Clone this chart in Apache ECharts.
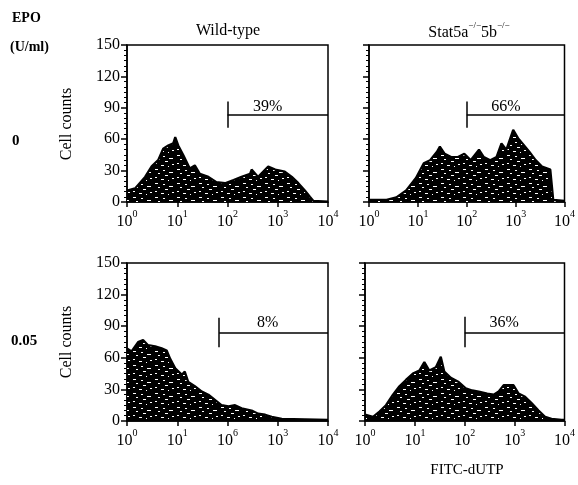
<!DOCTYPE html>
<html>
<head>
<meta charset="utf-8">
<script src="https://cdn.jsdelivr.net/npm/echarts@6/dist/echarts.min.js"></script>
<style>
  html, body { margin: 0; padding: 0; background: #fff; }
  #chart { width: 578px; height: 485px; }
</style>
</head>
<body>
<div id="chart"></div>
<script>
// Histogram data: x as log10(FITC-dUTP), y as cell counts
const wtEpo0Log = [0, 0.16, 0.36, 0.49, 0.62, 0.72, 0.82, 0.92, 0.96, 1.02, 1.12, 1.25, 1.35, 1.45, 1.62, 1.78, 1.95, 2.12, 2.28, 2.45, 2.48, 2.61, 2.81, 2.95, 3.14, 3.28, 3.41, 3.54, 3.64, 3.71, 4];
const wtEpo0Count = [11, 13, 24, 34, 40, 51, 54, 56, 62, 54, 45, 32, 35, 27, 24, 19, 18, 21, 24, 27, 31, 24, 34, 31, 29, 24, 18, 11, 5, 1, 0.5];

const koEpo0Log = [0, 0.36, 0.56, 0.76, 0.96, 1.12, 1.25, 1.39, 1.45, 1.55, 1.68, 1.82, 1.95, 2.08, 2.25, 2.35, 2.48, 2.61, 2.71, 2.81, 2.95, 3.05, 3.14, 3.28, 3.41, 3.54, 3.71, 3.77, 4];
const koEpo0Count = [2, 2, 4.5, 11, 23, 37, 40, 48, 53, 46, 43, 43, 46, 40, 50, 43, 40, 43, 56, 50, 69, 61, 56, 48, 40, 34, 31, 2, 1];

const wtEpo005Log = [0, 0.09, 0.22, 0.32, 0.42, 0.56, 0.69, 0.79, 0.86, 0.96, 1.09, 1.15, 1.22, 1.35, 1.49, 1.62, 1.75, 1.88, 2.02, 2.15, 2.28, 2.48, 2.61, 2.75, 2.88, 2.98, 3.08, 4];
const wtEpo005Count = [69, 66, 75, 77, 72, 71, 69, 67, 59, 50, 44, 47, 37, 33, 28, 25, 20, 15, 14, 15, 12, 10, 7, 6, 4, 3, 2, 1];

const koEpo005Log = [0, 0.16, 0.29, 0.42, 0.56, 0.69, 0.82, 0.96, 1.09, 1.19, 1.29, 1.42, 1.52, 1.59, 1.72, 1.88, 2.02, 2.15, 2.28, 2.45, 2.58, 2.68, 2.78, 2.88, 2.98, 3.08, 3.21, 3.34, 3.48, 3.61, 3.74, 3.94, 4];
const koEpo005Count = [6, 4, 9, 15, 25, 33, 39, 45, 48, 56, 48, 51, 61, 47, 41, 37, 31, 29, 28, 26, 25, 28, 34, 34, 34, 26, 23, 17, 10, 4, 2, 1, 1];

// Gates (marker bars) per panel
const gateStart = [100, 100, 68, 100];
const gateLevel = [83, 83, 84, 84];
const gateLow = [71, 71, 70, 70];
const gateHigh = [96, 96, 98, 99];
const gatePct = ['39%', '66%', '8%', '36%'];
const gateLabelX = [630, 630, 630, 620];
const gateLabelY = [91, 91, 93, 93];

// Tick labels (exponents); the lower-left panel carries the printed "10^6"
const xTickExp = ['0', '1', '2', '3', '4'];
const xTickExpMisprint = ['0', '1', '6', '3', '4'];
const yTicks = [0, 30, 60, 90, 120, 150];

const serif = "'Liberation Serif', 'Times New Roman', serif";

// black fill with white speckles, like the scanned histogram fill
const speckle = () => {
  const c = document.createElement('canvas');
  c.width = 22; c.height = 14;
  const g = c.getContext('2d');
  g.fillStyle = '#000'; g.fillRect(0, 0, 22, 14);
  g.fillStyle = '#fff';
  g.fillRect(1, 1, 3, 1);
  g.fillRect(9, 2, 2, 1);
  g.fillRect(15, 4, 4, 1);
  g.fillRect(4, 5, 2, 1);
  g.fillRect(11, 7, 3, 1);
  g.fillRect(1, 9, 2, 1);
  g.fillRect(18, 10, 2, 1);
  g.fillRect(7, 11, 3, 1);
  g.fillRect(14, 12, 1, 1);
  return c;
};
const fillPattern = { image: speckle(), repeat: 'repeat' };

const panels = [
  { log: wtEpo0Log, count: wtEpo0Count, ticks: xTickExp, yLabels: true },
  { log: koEpo0Log, count: koEpo0Count, ticks: xTickExp, yLabels: false },
  { log: wtEpo005Log, count: wtEpo005Count, ticks: xTickExpMisprint, yLabels: true },
  { log: koEpo005Log, count: koEpo005Count, ticks: xTickExp, yLabels: false }
];

const grids = [
  { left: 127, top: 45, width: 201, height: 157 },
  { left: 369, top: 45, width: 201, height: 157 },
  { left: 127, top: 263, width: 201, height: 158 },
  { left: 365, top: 263, width: 202, height: 158 }
].map(g => Object.assign(g, { show: true, borderColor: '#000', borderWidth: 1.5, backgroundColor: 'transparent' }));

const blackLine = { color: '#000', width: 1.5 };

const xAxes = panels.map((p, i) => ({
  type: 'log',
  logBase: 10,
  gridIndex: i,
  min: 1,
  max: 10000,
  axisLine: { lineStyle: blackLine },
  axisTick: { length: 5, lineStyle: blackLine },
  splitLine: { show: false },
  axisLabel: {
    margin: 7,
    formatter: v => {
      const e = Math.round(Math.log10(v));
      return '{b|10}{s|' + p.ticks[e] + '}';
    },
    rich: {
      b: { fontSize: 16, fontFamily: serif, color: '#000', verticalAlign: 'bottom', padding: [5, 0, 0, 0] },
      s: { fontSize: 10, fontFamily: serif, color: '#000', verticalAlign: 'top' }
    }
  }
}));

const yAxes = panels.map((p, i) => ({
  type: 'value',
  gridIndex: i,
  min: yTicks[0],
  max: yTicks[yTicks.length - 1],
  interval: 30,
  axisLine: { show: true, lineStyle: blackLine },
  axisTick: { show: true, length: 6, lineStyle: blackLine },
  minorTick: { show: true, splitNumber: 6, length: 3, lineStyle: { color: '#000', width: 1 } },
  splitLine: { show: false },
  axisLabel: { show: p.yLabels, margin: 7, fontSize: 16, fontFamily: serif, color: '#000' }
}));

const series = [];
panels.forEach((p, i) => {
  series.push({
    type: 'line',
    xAxisIndex: i,
    yAxisIndex: i,
    data: p.log.map((e, k) => [Math.pow(10, e), p.count[k]]),
    symbol: 'none',
    lineStyle: { color: '#000', width: 2.2 },
    areaStyle: { color: fillPattern, opacity: 1 },
    animation: false
  });
  series.push({
    type: 'scatter',
    xAxisIndex: i,
    yAxisIndex: i,
    data: [[gateLabelX[i], gateLabelY[i]]],
    symbolSize: 0,
    itemStyle: { color: '#000', opacity: 1 },
    label: {
      show: true, position: 'inside', formatter: gatePct[i], opacity: 1,
      fontSize: 16, fontFamily: serif, color: '#000', textBorderWidth: 0
    },
    markLine: {
      silent: true,
      symbol: ['none', 'none'],
      label: { show: false },
      lineStyle: { color: '#000', width: 1.5, type: 'solid' },
      data: [
        [{ coord: [gateStart[i], gateLow[i]] }, { coord: [gateStart[i], gateHigh[i]] }],
        [{ coord: [gateStart[i], gateLevel[i]] }, { coord: [10000, gateLevel[i]] }]
      ]
    },
    animation: false
  });
});

const txt = (text, x, y, opts) => ({
  type: 'text', x, y, silent: true,
  rotation: opts && opts.rotation || 0,
  style: Object.assign({ text, fill: '#000', fontFamily: serif, fontSize: 15, align: 'left', verticalAlign: 'middle' }, opts && opts.style)
});

const option = {
  backgroundColor: '#fff',
  animation: false,
  grid: grids,
  xAxis: xAxes,
  yAxis: yAxes,
  series,
  graphic: [
    txt('EPO', 12, 18, { style: { fontWeight: 'bold', fontSize: 14 } }),
    txt('(U/ml)', 10, 47, { style: { fontWeight: 'bold', fontSize: 14 } }),
    txt('0', 12, 141, { style: { fontWeight: 'bold', fontSize: 15 } }),
    txt('0.05', 11, 341, { style: { fontWeight: 'bold', fontSize: 15 } }),
    txt('Wild-type', 228, 31, { style: { align: 'center', fontSize: 16 } }),
    txt('{t|Stat5a}{s|\u2212/\u2212}{t|5b}{s|\u2212/\u2212}', 469, 31, {
      style: {
        align: 'center',
        rich: {
          t: { fontSize: 16, fontFamily: serif, fill: '#000', verticalAlign: 'bottom', padding: [4, 0, 0, 0] },
          s: { fontSize: 9, fontFamily: serif, fill: '#000', verticalAlign: 'top' }
        }
      }
    }),
    txt('Cell counts', 67, 124, { rotation: Math.PI / 2, style: { align: 'center', fontSize: 16 } }),
    txt('Cell counts', 67, 342, { rotation: Math.PI / 2, style: { align: 'center', fontSize: 16 } }),
    txt('FITC-dUTP', 467, 470, { style: { align: 'center', fontSize: 15 } })
  ]
};

const myChart = echarts.init(document.getElementById('chart'));
myChart.setOption(option);
</script>
</body>
</html>
